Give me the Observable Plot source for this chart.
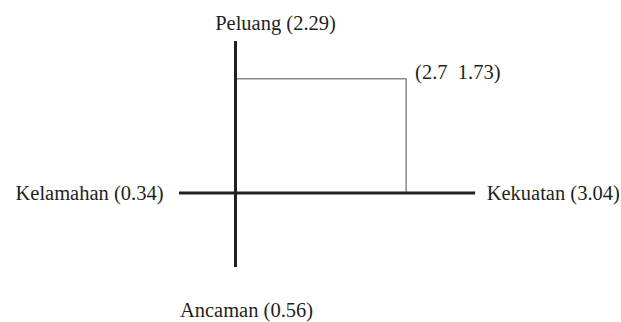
<!DOCTYPE html>
<html>
<head>
<meta charset="utf-8">
<script src="https://cdn.jsdelivr.net/npm/d3@7"></script>
<script src="https://cdn.jsdelivr.net/npm/@observablehq/plot@0.6"></script>
<style>
  html, body { margin: 0; padding: 0; background: #fff; }
  #chart svg { display: block; }
  #chart svg text { font-family: "Liberation Serif", "Times New Roman", serif !important; white-space: pre; }
</style>
</head>
<body>
<div id="chart"></div>
<script>
// SWOT factor scores
const factors = ["Kekuatan", "Kelamahan", "Peluang", "Ancaman"];
const scores = [3.04, 0.34, 2.29, 0.56];
// resulting position (Kekuatan - Kelamahan, Peluang - Ancaman)
const pointX = [2.7];
const pointY = [1.73];
// extent of the drawn axis lines (data units)
const xAxisExtent = [-0.886, 3.80];
const yAxisExtent = [-1.129, 2.295];

const label = (i) => `${factors[i]} (${scores[i].toFixed(2)})`;
const ink = "#231f20";
const font = "'Liberation Serif', 'Times New Roman', serif";

const chart = Plot.plot({
  width: 621,
  height: 322,
  margin: 0,
  x: {domain: [-3.718, 6.108], axis: null},
  y: {domain: [-1.962, 2.917], axis: null},
  style: {fontFamily: font, fontSize: "20.5px", background: "#fff"},
  marks: [
    // box from origin to the point
    Plot.line(
      [{x: 0, y: pointY[0]}, {x: pointX[0], y: pointY[0]}, {x: pointX[0], y: 0}],
      {x: "x", y: "y", stroke: "#8a8a8a", strokeWidth: 1.5}
    ),
    // axes
    Plot.ruleY([0], {x1: xAxisExtent[0], x2: xAxisExtent[1], stroke: ink, strokeWidth: 3}),
    Plot.ruleX([0], {y1: yAxisExtent[0], y2: yAxisExtent[1], stroke: ink, strokeWidth: 3}),
    // axis labels
    Plot.text([label(1)], {x: xAxisExtent[0], y: 0, text: d => d, textAnchor: "end", dx: -16, fill: ink, fontSize: 20.5, fontFamily: font}),
    Plot.text([label(0)], {x: xAxisExtent[1], y: 0, text: d => d, textAnchor: "start", dx: 11, fill: ink, fontSize: 20.5, fontFamily: font}),
    Plot.text([label(2)], {x: 0, y: yAxisExtent[1], text: d => d, textAnchor: "middle", dx: 40, dy: -18, fill: ink, fontSize: 20.5, fontFamily: font}),
    Plot.text([label(3)], {x: 0, y: yAxisExtent[0], text: d => d, textAnchor: "middle", dx: 11, dy: 43, fill: ink, fontSize: 20.5, fontFamily: font}),
    // point label
    Plot.text([0], {x: pointX[0], y: pointY[0], text: () => `(${pointX[0]}  ${pointY[0]})`, textAnchor: "start", dx: 9, dy: -6, fill: ink, fontSize: 20.5, fontFamily: font})
  ]
});
document.getElementById("chart").appendChild(chart);
</script>
</body>
</html>
